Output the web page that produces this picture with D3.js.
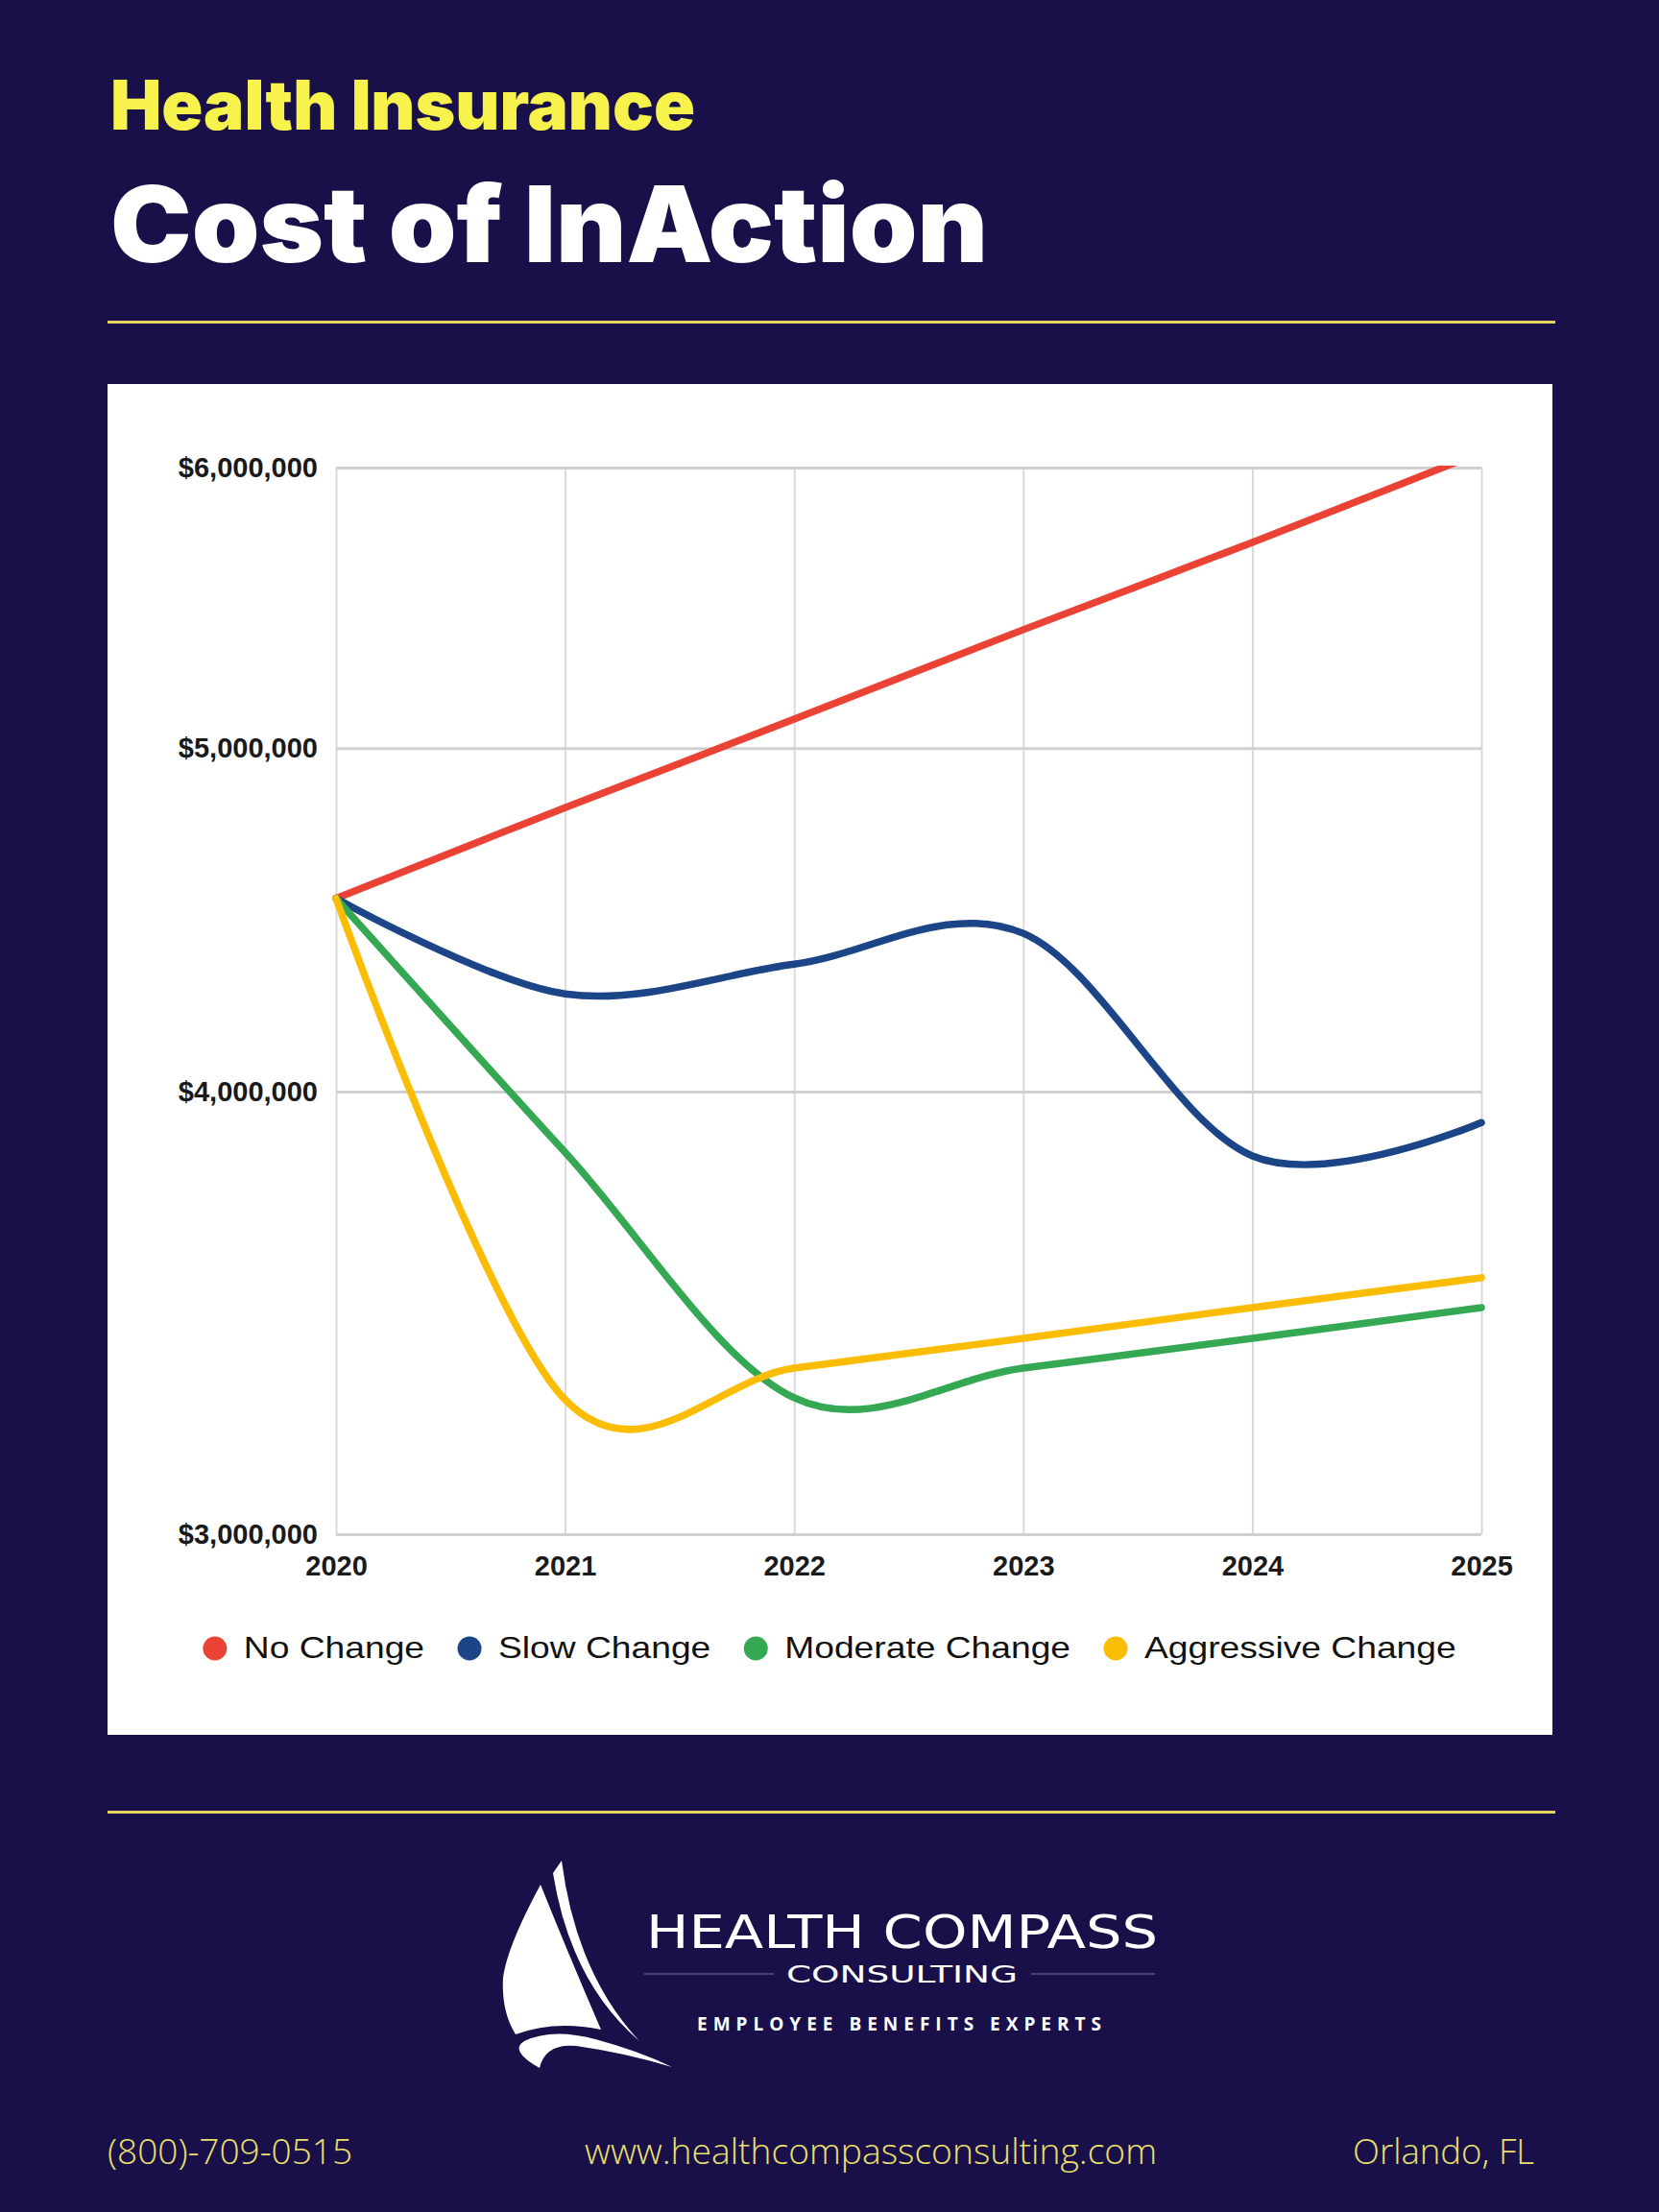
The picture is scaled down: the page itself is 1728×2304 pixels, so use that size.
<!DOCTYPE html>
<html>
<head>
<meta charset="utf-8">
<script src="https://cdn.jsdelivr.net/npm/d3@7"></script>
<style>
  html, body { margin: 0; padding: 0; background: #1a1049; }
  svg { display: block; }
</style>
</head>
<body>
<div id="chart"></div>
<script>
// values (log scale axis)
const years = [2020, 2021, 2022, 2023, 2024, 2025];
const noChange = [4535000, 4810000, 5095000, 5400000, 5715000, 6060000];
const slowChange = [4535000, 4262000, 4345000, 4433000, 3836000, 3920000];
const moderateChange = [4535000, 3845000, 3278000, 3342000, 3407000, 3476000];
const aggressiveChange = [4535000, 3274000, 3342000, 3407000, 3476000, 3544000];
const seriesNames = ["No Change", "Slow Change", "Moderate Change", "Aggressive Change"];
const seriesColors = ["#ea4335", "#1c4587", "#34a853", "#fbbc04"];
const yTicks = [3000000, 4000000, 5000000, 6000000];
const footerItems = ["(800)-709-0515", "www.healthcompassconsulting.com", "Orlando, FL"];

const allSeries = [noChange, slowChange, moderateChange, aggressiveChange];

const W = 1728, H = 2304;
const navy = "#1a1049";
const rule = "#e6d35a";

const svg = d3.select("#chart").append("svg")
  .attr("width", W)
  .attr("height", H);

svg.append("rect").attr("width", W).attr("height", H).attr("fill", navy);

// header
svg.append("text")
  .attr("x", 115).attr("y", 135)
  .attr("fill", "#f8f24c")
  .style("font", "900 71px Inter, Roboto, sans-serif")
  .attr("textLength", 609).attr("lengthAdjust", "spacingAndGlyphs")
  .text("Health Insurance");

svg.append("text")
  .attr("x", 115).attr("y", 273)
  .attr("fill", "#ffffff")
  .style("font", "900 110px Inter, Roboto, sans-serif")
  .attr("textLength", 914).attr("lengthAdjust", "spacingAndGlyphs")
  .text("Cost of InAction");

svg.append("rect").attr("x", 112).attr("y", 334).attr("width", 1508).attr("height", 3).attr("fill", rule);
svg.append("rect").attr("x", 112).attr("y", 1886).attr("width", 1508).attr("height", 3).attr("fill", rule);

// white chart card
svg.append("rect").attr("x", 112).attr("y", 400).attr("width", 1505).attr("height", 1407).attr("fill", "#ffffff");

const plotL = 350, plotR = 1543, plotT = 487, plotB = 1598;

const x = d3.scaleLinear().domain([2020, 2025]).range([plotL, plotR]);
const y = d3.scaleLog().domain([3000000, 6000000]).range([plotB, plotT]);

const chart = svg.append("g");

// vertical grid
chart.append("g")
  .attr("transform", `translate(0,${plotB})`)
  .call(d3.axisBottom(x).tickValues(years).tickSize(-(plotB - plotT)).tickFormat(""))
  .call(g => g.select(".domain").remove())
  .call(g => g.selectAll("line").attr("stroke", "#d9d9d9").attr("stroke-width", 2));

// horizontal grid
chart.append("g")
  .attr("transform", `translate(${plotL},0)`)
  .call(d3.axisLeft(y).tickValues(yTicks).tickSize(-(plotR - plotL)).tickFormat(""))
  .call(g => g.select(".domain").remove())
  .call(g => g.selectAll("line").attr("stroke", "#d0d0d0").attr("stroke-width", 3));

// axis labels
chart.append("g")
  .attr("transform", `translate(${plotL},0)`)
  .call(d3.axisLeft(y).tickValues(yTicks).tickSize(0).tickPadding(19).tickFormat(d3.format("$,")))
  .call(g => g.select(".domain").remove())
  .call(g => g.selectAll("text")
    .attr("fill", "#1a1a1a")
    .style("font", "bold 29px 'Liberation Sans', Arial, sans-serif"));

chart.append("g")
  .attr("transform", `translate(0,${plotB})`)
  .call(d3.axisBottom(x).tickValues(years).tickSize(0).tickPadding(22).tickFormat(d3.format("d")))
  .call(g => g.select(".domain").remove())
  .call(g => g.selectAll("text")
    .attr("fill", "#1a1a1a")
    .style("font", "bold 29px 'Liberation Sans', Arial, sans-serif"));

// lines
svg.append("clipPath").attr("id", "plotClip")
  .append("rect").attr("x", 300).attr("y", plotT - 2).attr("width", 1300).attr("height", 1200);

const line = d3.line()
  .x((d, i) => x(years[i]))
  .y(d => y(d))
  .curve(d3.curveCardinal.tension(0));

chart.append("g")
  .attr("clip-path", "url(#plotClip)")
  .selectAll("path")
  .data(allSeries)
  .join("path")
  .attr("d", line)
  .attr("fill", "none")
  .attr("stroke", (d, i) => seriesColors[i])
  .attr("stroke-width", 7.5)
  .attr("stroke-linecap", "round")
  .attr("stroke-linejoin", "round");

// legend
const legend = chart.append("g");
const legendItems = legend.selectAll("g")
  .data(seriesNames)
  .join("g");

legendItems.append("circle")
  .attr("r", 12.5)
  .attr("cy", -10)
  .attr("fill", (d, i) => seriesColors[i]);

const stretch = 1.2;
legendItems.append("text")
  .attr("transform", `translate(30,0) scale(${stretch},1)`)
  .attr("fill", "#111")
  .style("font", "31px 'Liberation Sans', Arial, sans-serif")
  .text(d => d);

let offset = 0;
const widths = [];
legendItems.each(function () {
  const w = d3.select(this).select("text").node().getComputedTextLength() * stretch;
  widths.push(w);
});
const positions = widths.map((w, i) => {
  const p = offset;
  offset += 30 + w + 47;
  return p;
});
const totalW = offset - 47 + 12.5;
const legendStart = 864 - totalW / 2 + 12.5;
legendItems.attr("transform", (d, i) => `translate(${legendStart + positions[i]},1727)`);

// logo
const logo = svg.append("g").attr("fill", "#ffffff");
logo.append("path")
  .attr("d", "M563,1963 Q528,2028 524,2060 Q522,2095 537,2119 Q578,2104 626,2114 Q594,2040 563,1963 Z");
logo.append("path")
  .attr("d", "M585,1938 Q600,2055 666,2126 Q594,2064 576,1951 Z");
logo.append("path")
  .attr("d", "M562,2154 Q530,2136 546,2126 Q575,2112 620,2124 Q665,2136 700,2153 Q650,2138 600,2131 Q568,2128 562,2154 Z");

logo.append("text")
  .attr("x", 673).attr("y", 2029)
  .style("font", "48px 'DejaVu Sans', sans-serif")
  .attr("textLength", 533).attr("lengthAdjust", "spacingAndGlyphs")
  .text("HEALTH COMPASS");

logo.append("text")
  .attr("x", 819).attr("y", 2065)
  .style("font", "25px 'DejaVu Sans', sans-serif")
  .attr("textLength", 241).attr("lengthAdjust", "spacingAndGlyphs")
  .text("CONSULTING");

logo.append("line").attr("x1", 671).attr("x2", 806).attr("y1", 2056).attr("y2", 2056)
  .attr("stroke", "#55508c").attr("stroke-width", 1.5);
logo.append("line").attr("x1", 1074).attr("x2", 1203).attr("y1", 2056).attr("y2", 2056)
  .attr("stroke", "#55508c").attr("stroke-width", 1.5);

logo.append("text")
  .attr("x", 726).attr("y", 2115)
  .style("font", "bold 19px 'Open Sans', sans-serif")
  .attr("textLength", 421).attr("lengthAdjust", "spacing")
  .text("EMPLOYEE BENEFITS EXPERTS");

// footer
const footerX = [112, 609, 1409];
const footerW = [255, 596, 189];
svg.append("g").selectAll("text")
  .data(footerItems)
  .join("text")
  .attr("x", (d, i) => footerX[i])
  .attr("y", 2254)
  .attr("fill", "#ebe06f")
  .style("font", "300 37px 'Open Sans', sans-serif")
  .attr("textLength", (d, i) => footerW[i])
  .attr("lengthAdjust", "spacingAndGlyphs")
  .text(d => d);
</script>
</body>
</html>
